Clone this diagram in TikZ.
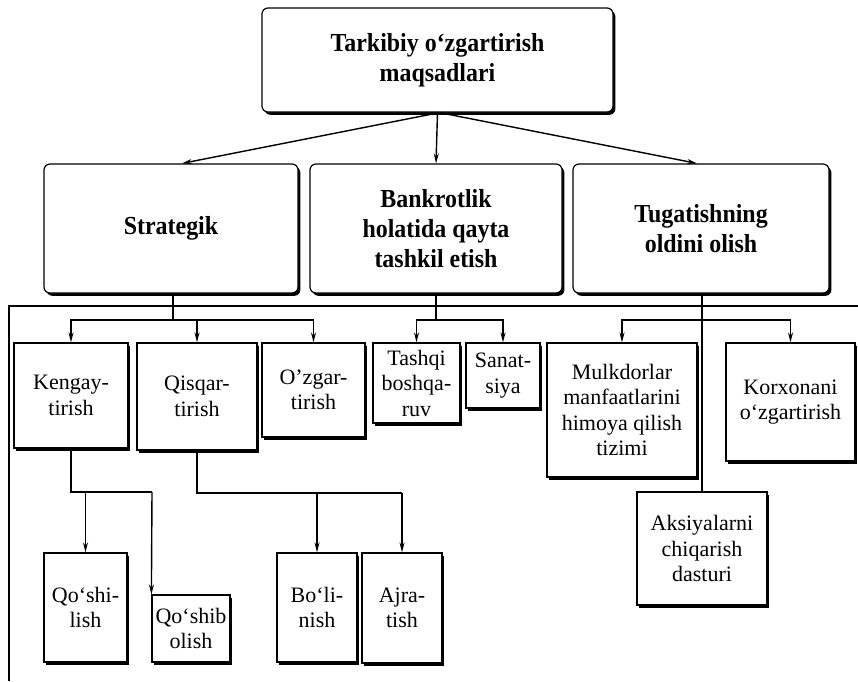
\documentclass[tikz,border=0pt]{standalone}
\usepackage{fontspec}
\setmainfont{Liberation Serif}
\newfontfamily\condserif[FakeStretch=0.92]{Liberation Serif}
\usetikzlibrary{arrows.meta,shadows,calc}
\tikzset{
  shbox/.style={draw, fill=white, line width=1.2pt, inner sep=0pt, align=center,
    drop shadow={shadow xshift=2.4pt, shadow yshift=-2.8pt, opacity=1, fill=black}},
  topbox/.style={shbox, rounded corners=6pt, font=\condserif\bfseries\fontsize{26}{30}\selectfont},
  subbox/.style={shbox, font=\fontsize{22}{25.5}\selectfont},
  conn/.style={line width=1.4pt},
  arr/.style={conn, -{Stealth[length=10pt,width=5pt]}},
}
\begin{document}
\begin{tikzpicture}[x=1pt,y=-1pt]
\path[use as bounding box] (0,0) rectangle (858,681);
% level 0
\node[topbox, minimum width=351pt, minimum height=104pt] (top) at (437.5,60) {Tarkibiy o‘zgartirish\\maqsadlari};
% level 1
\node[topbox, minimum width=254pt, minimum height=129pt] (strat) at (171,228.5) {Strategik};
\node[topbox, minimum width=252pt, minimum height=129pt] (bank) at (436,228.5) {Bankrotlik\\holatida qayta\\tashkil etish};
\node[topbox, minimum width=256pt, minimum height=129pt] (tug) at (701,228.5) {Tugatishning\\oldini olish};
% level 2
\node[subbox, minimum width=114pt, minimum height=105pt] (keng) at (71,395.5) {Kengay-\\tirish};
\node[subbox, minimum width=120pt, minimum height=107pt] (qisq) at (197,396.5) {Qisqar-\\tirish};
\node[subbox, minimum width=103pt, minimum height=94pt] (ozg) at (313.5,390) {O’zgar-\\tirish};
\node[subbox, minimum width=87pt, minimum height=80pt] (tash) at (416.5,383) {Tashqi\\boshqa-\\ruv};
\node[subbox, minimum width=74pt, minimum height=65pt] (san) at (503,375.5) {Sanat-\\siya};
\node[subbox, minimum width=150pt, minimum height=134pt] (mulk) at (622,410) {Mulkdorlar\\manfaatlarini\\himoya qilish\\tizimi};
\node[subbox, minimum width=129pt, minimum height=118pt] (korx) at (790.5,402) {Korxonani\\o‘zgartirish};
\node[subbox, minimum width=130pt, minimum height=113pt] (aks) at (702,548.5) {Aksiyalarni\\chiqarish\\dasturi};
% level 3
\node[subbox, minimum width=83pt, minimum height=109pt] (qosh) at (85.5,607.5) {Qo‘shi-\\lish};
\node[subbox, minimum width=78pt, minimum height=67pt] (qoshib) at (191,628.5) {Qo‘shib\\olish};
\node[subbox, minimum width=80pt, minimum height=109pt] (bol) at (317,607.5) {Bo‘li-\\nish};
\node[subbox, minimum width=80pt, minimum height=110pt] (ajr) at (402,608) {Ajra-\\tish};
% frame lines
\coordinate (fl) at (9,681);
\coordinate (fc) at (9,306);
\coordinate (fr) at (858,306);
\draw[conn] (fl) -- (fc) -- (fr);
% level 0 -> level 1
\draw[arr] ([xshift=2pt]top.south) -- ([xshift=11pt]strat.north);
\draw[arr] (top.south) -- (bank.north);
\draw[arr] ([xshift=2pt]top.south) -- ([xshift=-4pt]tug.north);
% Strategik
\coordinate (b1) at (173,320);
\draw[conn] ([xshift=2pt]strat.south) -- (b1);
\draw[arr] (b1) -| (keng.north);
\draw[arr] (b1) -| (ozg.north);
\draw[arr] (b1 -| qisq.north) -- (qisq.north);
% Bankrotlik
\coordinate (b2) at (436,320);
\draw[conn] (bank.south) -- (b2);
\draw[arr] (b2) -| (tash.north);
\draw[arr] (b2) -| (san.north);
% Tugatish
\coordinate (b3) at (702,320);
\draw[conn] ([xshift=1pt]tug.south) -- (aks.north);
\draw[arr] (b3) -| (mulk.north);
\draw[arr] (b3) -| (korx.north);
% Kengaytirish
\coordinate (k2) at (152,492);
\draw[conn] (keng.south) |- (k2);
\draw[arr] (k2) -- (qoshib.north west);
\draw[arr] (qosh.north |- k2) -- (qosh.north);
% Qisqartirish
\coordinate (q2) at (402,493);
\draw[conn] (qisq.south) |- (q2);
\draw[arr] (q2) -- (ajr.north);
\draw[arr] (bol.north |- q2) -- (bol.north);
\end{tikzpicture}
\end{document}
